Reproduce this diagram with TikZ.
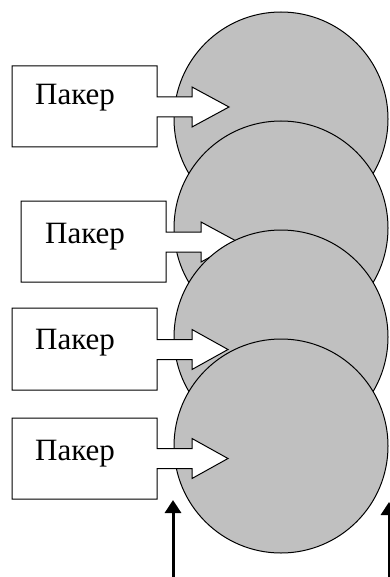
\documentclass[tikz,border=0pt]{standalone}
\usepackage{fontspec}
\setmainfont{Liberation Serif}
\usetikzlibrary{arrows.meta}
\begin{document}
\begin{tikzpicture}[x=1pt,y=-1pt,
  disc/.style={draw=black,line width=1pt,fill=discgray},
  packer/.style={draw=black,line width=1pt,fill=white},
  lbl/.style={anchor=base west,inner sep=0pt,font=\fontsize{31}{33}\selectfont},
  flow/.style={line width=3pt,-{Triangle[width=16pt,length=13pt]}}]
\definecolor{discgray}{RGB}{192,192,192}
\useasboundingbox (0,0) rectangle (389,577);
% box with a block arrow: #1 left, #2 top, #3 right, #4 bottom,
% #5 arrow base x, #6 tip x, #7 centre line y
\def\packerbox#1#2#3#4#5#6#7{%
  \draw[packer] (#1,#2) -- (#3,#2) -- (#3,#7-10) -- (#5,#7-10) -- (#5,#7-20)
    -- (#6,#7) -- (#5,#7+20) -- (#5,#7+10) -- (#3,#7+10) -- (#3,#4) -- (#1,#4) -- cycle;}
% stacked discs, each followed by its packer
\draw[disc] (281,119) circle[radius=107];
\packerbox{12}{66}{157}{147}{192}{229}{107}
\node[lbl] (p1) at (35,105) {Пакер};
\draw[disc] (281,228) circle[radius=107];
\packerbox{21}{201}{166}{282}{201}{238}{242}
\node[lbl] (p2) at (45,243) {Пакер};
\draw[disc] (281,337) circle[radius=107];
\packerbox{12}{308}{157}{390}{192}{228}{349.5}
\node[lbl] (p3) at (35,349) {Пакер};
\draw[disc] (281,446) circle[radius=107];
\packerbox{12}{418}{157}{499}{192}{228}{458.5}
\node[lbl] (p4) at (35,460) {Пакер};
% upward arrows at the bottom
\coordinate (a1s) at (173,580);
\coordinate (a1e) at (173,500);
\coordinate (a2s) at (389,580);
\coordinate (a2e) at (389,502);
\draw[flow] (a1s) -- (a1e);
\draw[flow] (a2s) -- (a2e);
\end{tikzpicture}
\end{document}
